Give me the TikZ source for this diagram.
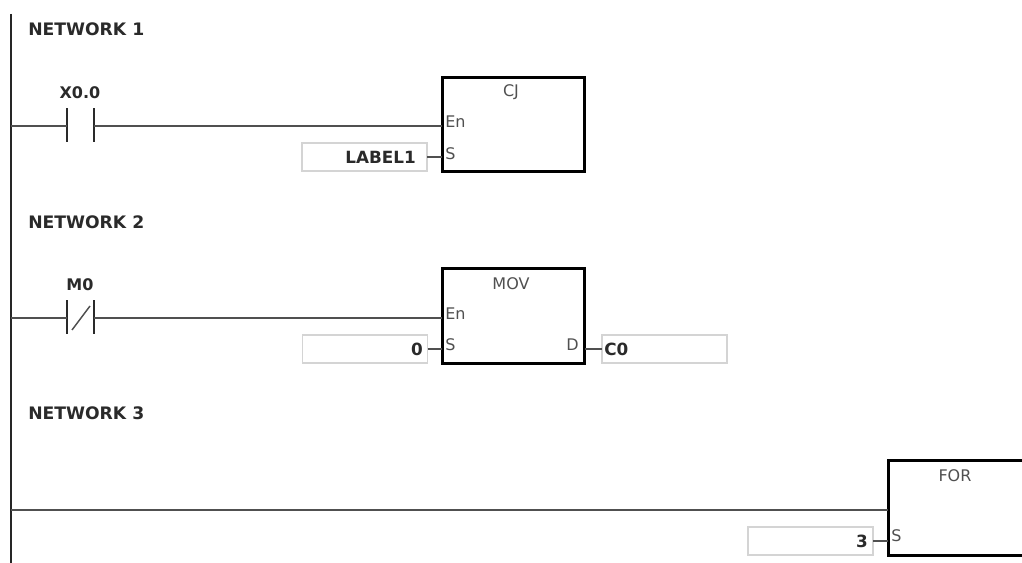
\documentclass[tikz,border=0pt]{standalone}
\usepackage{fontspec}
\setmainfont{DejaVu Sans}
\usepackage{xcolor}
\usetikzlibrary{positioning}
\definecolor{wirecol}{HTML}{505050}
\definecolor{fieldcol}{HTML}{D4D4D4}
\definecolor{inkcol}{HTML}{2A2A2A}
\tikzset{
  nettitle/.style={anchor=west, inner sep=0pt, font=\fontsize{12.9}{15}\selectfont\bfseries, text=inkcol},
  contactname/.style={inner sep=0pt, font=\fontsize{12}{14}\selectfont\bfseries, text=inkcol},
  plate/.style={fill=inkcol, inner sep=0pt, outer sep=0pt, minimum width=2.2pt, minimum height=24.8pt},
  blockbox/.style={draw=black, line width=2.2pt, inner sep=0pt, outer sep=0pt, minimum width=107pt, minimum height=71pt},
  blockname/.style={inner sep=0pt, font=\fontsize{12}{14}\selectfont, text=wirecol},
  pinname/.style={inner sep=0pt, font=\fontsize{12}{14}\selectfont, text=wirecol},
  valuebox/.style={draw=fieldcol, line width=1.1pt, inner sep=0pt, outer sep=0pt, minimum width=94pt, minimum height=21pt},
  valuename/.style={inner sep=0pt, font=\fontsize{12.6}{15}\selectfont\bfseries, text=inkcol},
  wire/.style={draw=wirecol, line width=1.7pt},
}
\begin{document}
\begin{tikzpicture}[x=0.75pt, y=-0.75pt]
\clip (0,0) rectangle (1022,563);
\fill[white] (0,0) rectangle (1022,563);
% power rail
\coordinate (railtop) at (11,14);
\coordinate (railend) at (11,563);
\coordinate (rung1) at (11,126);
\coordinate (rung2) at (11,318);
\coordinate (rung3) at (11,510);
\draw[black!85, line width=2.2pt] (railtop) -- (railend);
% network 1
\node[nettitle] (net1) at (28,29) {NETWORK 1};
\node[plate] (x0a) at (67,125) {};
\node[plate] (x0b) at (94,125) {};
\node[contactname] (x0) at (80,93) {X0.0};
\node[blockbox] (cj) at (513.5,124.5) {};
\node[blockname] (cjname) at (511,92) {CJ};
\node[pinname, anchor=west] (cjen) at (445,122) {En};
\node[pinname, anchor=west] (cjs) at (445,154) {S};
\node[valuebox] (lab) at (364.5,157) {};
\node[valuename, anchor=east] (labtext) at (416,157) {LABEL1};
\draw[wire] (rung1) -- (rung1 -| x0a);
\draw[wire] (rung1 -| x0b) -- (rung1 -| cj.west);
\draw[wire] (lab.east) -- (lab.east -| cj.west);
% network 2
\node[nettitle] (net2) at (28,222) {NETWORK 2};
\node[plate] (m0a) at (67,317) {};
\node[plate] (m0b) at (94,317) {};
\node[contactname] (m0) at (80,285) {M0};
\coordinate (slashlo) at (72,330);
\coordinate (slashhi) at (90,306);
\draw[wirecol, line width=1.1pt] (slashlo) -- (slashhi);
\node[blockbox] (mov) at (513.5,316) {};
\node[blockname] (movname) at (511,284) {MOV};
\node[pinname, anchor=west] (moven) at (445,314) {En};
\node[pinname, anchor=west] (movs) at (445,345) {S};
\node[pinname, anchor=east] (movd) at (579,345) {D};
\node[valuebox] (zero) at (365,349) {};
\node[valuename, anchor=east] (zerotext) at (423,349) {0};
\node[valuebox] (czero) at (664.5,349) {};
\node[valuename, anchor=west] (czerotext) at (604,349) {C0};
\draw[wire] (rung2) -- (rung2 -| m0a);
\draw[wire] (rung2 -| m0b) -- (rung2 -| mov.west);
\draw[wire] (zero.east) -- (zero.east -| mov.west);
\draw[wire] (mov.east |- czero.west) -- (czero.west);
% network 3
\node[nettitle] (net3) at (28,413) {NETWORK 3};
\node[blockbox] (for) at (959.5,508) {};
\node[blockname] (forname) at (955,476) {FOR};
\node[pinname, anchor=west] (fors) at (891,536) {S};
\node[valuebox] (three) at (810.5,541) {};
\node[valuename, anchor=east] (threetext) at (868,541) {3};
\draw[wire] (rung3) -- (rung3 -| for.west);
\draw[wire] (three.east) -- (three.east -| for.west);
\end{tikzpicture}
\end{document}
